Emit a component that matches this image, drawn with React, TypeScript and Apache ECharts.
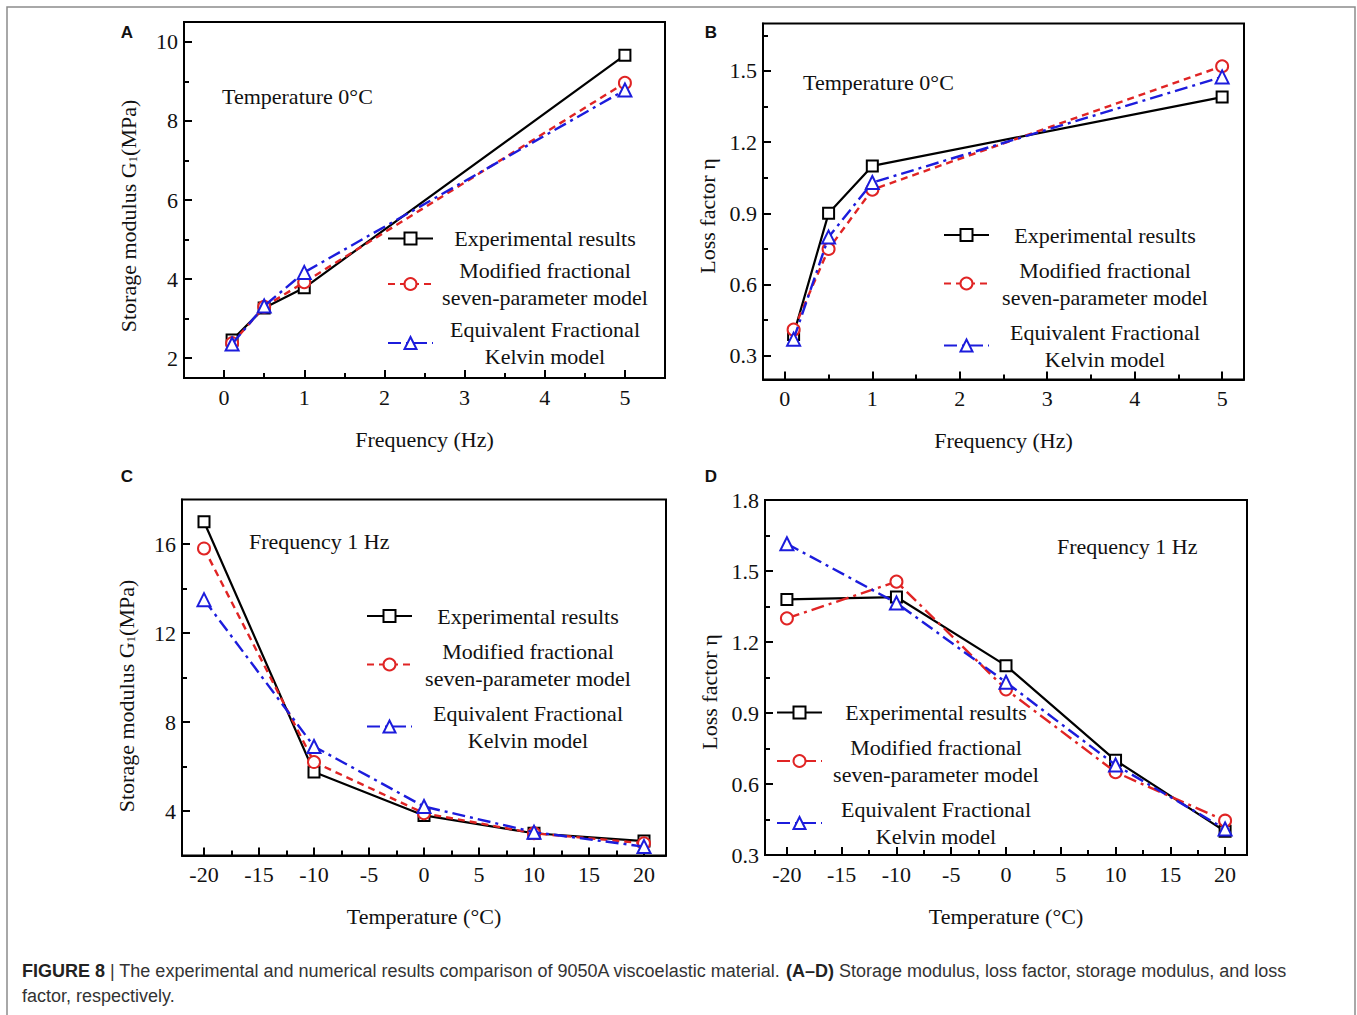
import React, { useEffect, useRef } from "react";
import * as echarts from "echarts";

// ---------- data ----------
const freqHz = [0.1, 0.5, 1, 5];
const tempC = [-20, -10, 0, 10, 20];

const aExperimental = [2.46, 3.27, 3.78, 9.66];
const aModified = [2.38, 3.3, 3.92, 8.96];
const aKelvin = [2.36, 3.32, 4.17, 8.78];

const bExperimental = [0.39, 0.9, 1.1, 1.39];
const bModified = [0.41, 0.75, 1.0, 1.52];
const bKelvin = [0.37, 0.8, 1.03, 1.475];

const cExperimental = [17.0, 5.75, 3.8, 3.0, 2.65];
const cModified = [15.8, 6.2, 3.9, 3.0, 2.55];
const cKelvin = [13.5, 6.9, 4.2, 3.05, 2.4];

const dExperimental = [1.38, 1.39, 1.1, 0.7, 0.4];
const dModified = [1.3, 1.455, 1.0, 0.65, 0.445];
const dKelvin = [1.615, 1.365, 1.03, 0.68, 0.41];

// ---------- tick labels ----------
const freqTicks = [0, 1, 2, 3, 4, 5];
const freqMinorTicks = [0.5, 1.5, 2.5, 3.5, 4.5];
const tempTicks = [-20, -15, -10, -5, 0, 5, 10, 15, 20];
const tempMinorTicks = [-17.5, -12.5, -7.5, -2.5, 2.5, 7.5, 12.5, 17.5];
const aYTicks = [2, 4, 6, 8, 10];
const aYMinorTicks = [3, 5, 7, 9];
const bYTicks = [0.3, 0.6, 0.9, 1.2, 1.5];
const bYMinorTicks = [0.45, 0.75, 1.05, 1.35, 1.65];
const cYTicks = [4, 8, 12, 16];
const cYMinorTicks = [6, 10, 14];
const dYTicks = [0.3, 0.6, 0.9, 1.2, 1.5, 1.8];
const dYMinorTicks = [0.45, 0.75, 1.05, 1.35, 1.65];

const seriesLabels = [
  "Experimental results",
  "Modified fractional\nseven-parameter model",
  "Equivalent Fractional\nKelvin model",
];

const SERIF = "'Liberation Serif', 'Times New Roman', serif";
const SANS = "'Liberation Sans', Arial, sans-serif";
const RED = "#e02424";
const BLUE = "#1c1cdc";
const SHORT_DASH = [7, 5];
const DASH_DOT = [13, 5, 3, 5];

const panels = [
  {
    key: "A",
    grid: { left: 184, top: 22, width: 481, height: 356 },
    xs: freqHz,
    values: [aExperimental, aModified, aKelvin],
    x: { min: -0.5, max: 5.5, major: freqTicks, minor: freqMinorTicks, name: "Frequency (Hz)", dec: -1 },
    y: { min: 1.5, max: 10.5, major: aYTicks, minor: aYMinorTicks, name: "Storage modulus G{sub|1}(MPa)", dec: -1, shift: 32 },
    redDash: SHORT_DASH,
    legend: { left: 387, top: 227.5, gap: 10, width: 214 },
    note: { text: "Temperature 0°C", x: 222, y: 98 },
    letter: { x: 127, y: 32 },
  },
  {
    key: "B",
    grid: { left: 763, top: 23.5, width: 481, height: 356 },
    xs: freqHz,
    values: [bExperimental, bModified, bKelvin],
    x: { min: -0.25, max: 5.25, major: freqTicks, minor: freqMinorTicks, name: "Frequency (Hz)", dec: -1 },
    y: { min: 0.2, max: 1.7, major: bYTicks, minor: bYMinorTicks, name: "Loss factor η", dec: 1, shift: 29 },
    redDash: SHORT_DASH,
    legend: { left: 943, top: 224, gap: 13, width: 222 },
    note: { text: "Temperature 0°C", x: 803, y: 84 },
    letter: { x: 711, y: 32 },
  },
  {
    key: "C",
    grid: { left: 182, top: 499.5, width: 484, height: 356 },
    xs: tempC,
    values: [cExperimental, cModified, cKelvin],
    x: { min: -22, max: 22, major: tempTicks, minor: tempMinorTicks, name: "Temperature (°C)", dec: -1 },
    y: { min: 2, max: 18, major: cYTicks, minor: cYMinorTicks, name: "Storage modulus G{sub|1}(MPa)", dec: -1, shift: 37 },
    redDash: SHORT_DASH,
    legend: { left: 366, top: 605, gap: 13, width: 222 },
    note: { text: "Frequency 1 Hz", x: 249, y: 543 },
    letter: { x: 127, y: 476 },
  },
  {
    key: "D",
    grid: { left: 765, top: 500, width: 482, height: 355 },
    xs: tempC,
    values: [dExperimental, dModified, dKelvin],
    x: { min: -22, max: 22, major: tempTicks, minor: tempMinorTicks, name: "Temperature (°C)", dec: -1 },
    y: { min: 0.3, max: 1.8, major: dYTicks, minor: dYMinorTicks, name: "Loss factor η", dec: 1, shift: 29 },
    redDash: DASH_DOT,
    legend: { left: 776, top: 701.5, gap: 13, width: 218 },
    note: { text: "Frequency 1 Hz", x: 1057, y: 548 },
    letter: { x: 711, y: 476 },
  },
];

function fmt(dec: number) {
  return (v: number) => (dec >= 0 ? Number(v).toFixed(dec) : String(Math.round(v * 1000) / 1000));
}

function buildAxes(kind: "x" | "y", gridIndex: number, cfg: any) {
  const isX = kind === "x";
  const common: any = {
    type: "value",
    gridIndex,
    min: cfg.min,
    max: cfg.max,
    position: isX ? "bottom" : "left",
    splitLine: { show: false },
  };
  const main = {
    ...common,
    axisLine: { show: true, onZero: false, lineStyle: { color: "#000", width: 2 } },
    axisTick: { show: true, inside: true, length: 8, customValues: cfg.major, lineStyle: { color: "#000", width: 2 } },
    axisLabel: {
      show: true,
      customValues: cfg.major,
      formatter: fmt(cfg.dec),
      fontFamily: SERIF,
      fontSize: 22,
      color: "#111",
      margin: isX ? 8 : 6,
    },
    name: cfg.name,
    nameLocation: "middle",
    nameGap: isX ? 50 : 45,
    nameRotate: isX ? 0 : 90,
    nameTextStyle: {
      fontFamily: SERIF,
      fontSize: 22,
      color: "#111",
      padding: isX ? 0 : [0, cfg.shift, 0, 0],
      rich: {
        sub: { fontFamily: SERIF, fontSize: 13, verticalAlign: "bottom", color: "#111" },
      },
    },
  };
  const minor = {
    ...common,
    axisLine: { show: false, onZero: false },
    axisTick: { show: true, inside: true, length: 5, customValues: cfg.minor, lineStyle: { color: "#000", width: 2 } },
    axisLabel: { show: false },
  };
  return [main, minor];
}

function buildOption() {
  const grid: any[] = [];
  const xAxis: any[] = [];
  const yAxis: any[] = [];
  const series: any[] = [];
  const legend: any[] = [];
  const graphic: any[] = [];

  panels.forEach((p, i) => {
    grid.push({
      ...p.grid,
      show: true,
      borderColor: "#000",
      borderWidth: 2,
      backgroundColor: "transparent",
      containLabel: false,
      outerBoundsMode: "none",
    });
    xAxis.push(...buildAxes("x", i, p.x));
    yAxis.push(...buildAxes("y", i, p.y));

    const names = seriesLabels.map((_, k) => `${p.key}-${k}`);
    const styles = [
      { color: "#000", dash: "solid" as any, symbol: "rect", size: 11, width: 2.2 },
      { color: RED, dash: p.redDash, symbol: "circle", size: 12, width: 2.4 },
      { color: BLUE, dash: DASH_DOT, symbol: "triangle", size: 13, width: 2.4 },
    ];
    p.values.forEach((vals, k) => {
      const st = styles[k];
      series.push({
        type: "line",
        name: names[k],
        xAxisIndex: 2 * i,
        yAxisIndex: 2 * i,
        data: p.xs.map((x, j) => [x, vals[j]]),
        symbol: st.symbol,
        symbolSize: st.size,
        showAllSymbol: true,
        lineStyle: { color: st.color, width: st.width, type: st.dash },
        itemStyle: { color: "#fff", borderColor: st.color, borderWidth: 2 },
        emphasis: { disabled: true },
        z: 3 + k,
      });
    });

    legend.push({
      show: true,
      orient: "vertical",
      left: p.legend.left,
      top: p.legend.top,
      itemGap: p.legend.gap,
      itemWidth: 45,
      itemHeight: 15,
      padding: 0,
      selectedMode: false,
      data: names,
      formatter: (n: string) => {
        const idx = Number(n.split("-")[1]);
        return seriesLabels[idx]
          .split("\n")
          .map((line) => `{t|${line}}`)
          .join("\n");
      },
      textStyle: {
        fontFamily: SERIF,
        fontSize: 22,
        color: "#111",
        rich: {
          t: {
            width: p.legend.width,
            align: "center",
            fontFamily: SERIF,
            fontSize: 22,
            lineHeight: 27,
            color: "#111",
          },
        },
      },
    });

    graphic.push({
      type: "text",
      left: p.note.x,
      top: p.note.y - 13,
      silent: true,
      style: { text: p.note.text, fontFamily: SERIF, fontSize: 22, fill: "#111" },
    });
    graphic.push({
      type: "text",
      x: p.letter.x,
      y: p.letter.y,
      silent: true,
      style: {
        text: p.key,
        fontFamily: SANS,
        fontWeight: "bold",
        fontSize: 17,
        fill: "#111",
        align: "center",
        verticalAlign: "middle",
      },
    });
  });

  graphic.push({
    type: "rect",
    silent: true,
    shape: { x: 7, y: 7, width: 1348, height: 1030 },
    style: { fill: "none", stroke: "#8c8c8c", lineWidth: 1.5 },
    z: -1,
  });
  graphic.push({
    type: "text",
    x: 22,
    y: 958.5,
    silent: true,
    style: {
      text:
        "{b|FIGURE 8} | The experimental and numerical results comparison of 9050A viscoelastic material. {b|(A–D)} Storage modulus, loss factor, storage modulus, and loss\nfactor, respectively.",
      fontFamily: SANS,
      fontSize: 18,
      lineHeight: 25,
      fill: "#333",
      verticalAlign: "top",
      rich: {
        b: { fontFamily: SANS, fontSize: 18, fontWeight: "bold", fill: "#222", lineHeight: 25 },
      },
    },
  });

  return {
    animation: false,
    backgroundColor: "#fff",
    grid,
    xAxis,
    yAxis,
    series,
    legend,
    graphic,
    tooltip: { show: false },
  };
}

export default function App() {
  const ref = useRef<HTMLDivElement>(null);
  useEffect(() => {
    if (!ref.current) return;
    const chart = echarts.init(ref.current, undefined, { renderer: "svg" });
    chart.setOption(buildOption() as any);
    return () => chart.dispose();
  }, []);
  return (
    <div
      ref={ref}
      style={{ position: "absolute", left: 0, top: 0, width: 1357, height: 1015, background: "#fff" }}
    />
  );
}
